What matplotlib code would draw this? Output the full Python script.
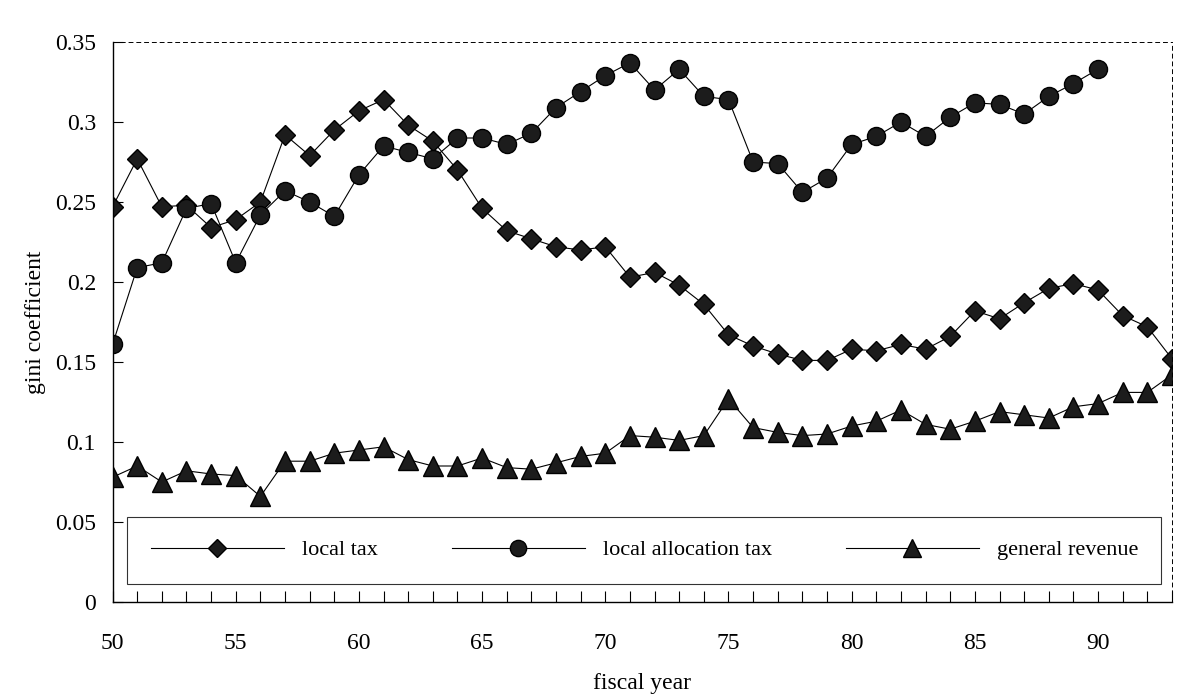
import matplotlib
matplotlib.use("Agg")
import matplotlib.pyplot as plt
from matplotlib.ticker import MultipleLocator, FuncFormatter

years_tax = list(range(50, 94))
local_tax = [0.247, 0.277, 0.247, 0.248, 0.234, 0.239, 0.250, 0.292, 0.279, 0.295,
             0.307, 0.314, 0.298, 0.288, 0.270, 0.246, 0.232, 0.227, 0.222, 0.220,
             0.222, 0.203, 0.206, 0.198, 0.186, 0.167, 0.160, 0.155, 0.151, 0.151,
             0.158, 0.157, 0.161, 0.158, 0.166, 0.182, 0.177, 0.187, 0.196, 0.199,
             0.195, 0.179, 0.172, 0.152]

years_alloc = list(range(50, 91))
local_allocation_tax = [0.161, 0.209, 0.212, 0.246, 0.249, 0.212, 0.242, 0.257, 0.250, 0.241,
                        0.267, 0.285, 0.281, 0.277, 0.290, 0.290, 0.286, 0.293, 0.309, 0.319,
                        0.329, 0.337, 0.320, 0.333, 0.316, 0.314, 0.275, 0.274, 0.256, 0.265,
                        0.286, 0.291, 0.300, 0.291, 0.303, 0.312, 0.311, 0.305, 0.316, 0.324,
                        0.333]

years_rev = list(range(50, 94))
general_revenue = [0.078, 0.085, 0.075, 0.082, 0.080, 0.079, 0.066, 0.088, 0.088, 0.093,
                   0.095, 0.097, 0.089, 0.085, 0.085, 0.090, 0.084, 0.083, 0.087, 0.091,
                   0.093, 0.104, 0.103, 0.101, 0.104, 0.127, 0.109, 0.106, 0.104, 0.105,
                   0.110, 0.113, 0.120, 0.111, 0.108, 0.113, 0.119, 0.117, 0.115, 0.122,
                   0.124, 0.131, 0.131, 0.142]

labels = ["local tax", "local allocation tax", "general revenue"]

plt.rcParams['font.family'] = ['Liberation Serif', 'DejaVu Serif']

fig = plt.figure(figsize=(11.85, 7.0), dpi=100)
ax = fig.add_axes([0.095, 0.14, 0.894, 0.8])

mfc = '#1c1c1c'
ax.plot(years_tax, local_tax, color='black', lw=0.8, marker='D', ms=10,
        mfc=mfc, mec='black', label=labels[0])
ax.plot(years_alloc, local_allocation_tax, color='black', lw=0.8, marker='o', ms=13,
        mfc=mfc, mec='black', label=labels[1])
ax.plot(years_rev, general_revenue, color='black', lw=0.8, marker='^', ms=14,
        mfc=mfc, mec='black', label=labels[2])

ax.set_xlim(50, 93)
ax.set_ylim(0, 0.35)
ax.xaxis.set_major_locator(MultipleLocator(5))
ax.xaxis.set_minor_locator(MultipleLocator(1))
ax.yaxis.set_major_locator(MultipleLocator(0.05))
ax.yaxis.set_major_formatter(FuncFormatter(lambda v, p: ('%.2f' % v).rstrip('0').rstrip('.') if v != 0 else '0'))

ax.tick_params(axis='both', which='both', direction='in', labelsize=17)
ax.tick_params(axis='x', which='major', length=8, width=0.8, pad=22)
ax.tick_params(axis='x', which='minor', length=8, width=0.8)
ax.tick_params(axis='y', which='major', length=7, width=0.8, pad=12)

ax.spines['left'].set_linewidth(1.0)
ax.spines['bottom'].set_linewidth(1.0)
for s in ['top', 'right']:
    ax.spines[s].set_linestyle((0, (4, 4)))
    ax.spines[s].set_linewidth(0.7)

ax.set_xlabel('fiscal year', fontsize=17, labelpad=14)
ax.set_ylabel('gini coefficient', fontsize=17, labelpad=6)

leg = ax.legend(loc='center', ncol=3, bbox_to_anchor=(0.014, 0.03, 0.976, 0.125),
                mode='expand', handlelength=6, fontsize=16, frameon=True,
                fancybox=False, edgecolor='black', borderaxespad=0, borderpad=1.05,
                markerscale=0.9)
leg.get_frame().set_linewidth(0.8)

fig.savefig('out.png', dpi=100)
